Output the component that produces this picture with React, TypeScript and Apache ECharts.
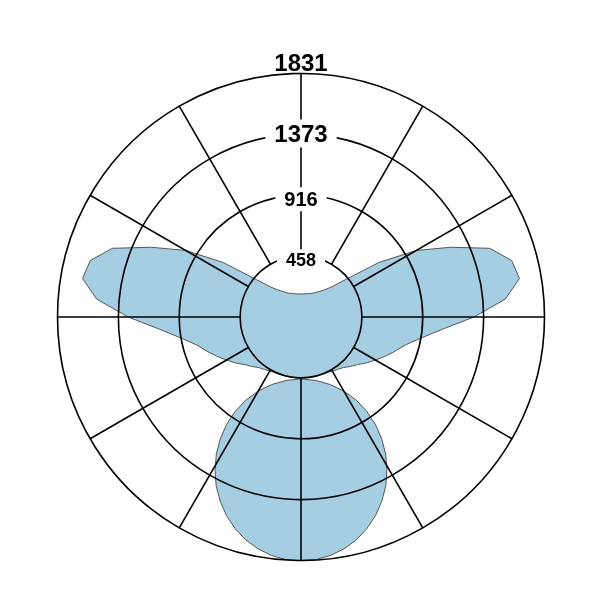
import { useEffect, useRef } from "react";
import * as echarts from "echarts";

// radius rings (cd) and their labels
const ringValues = [457.75, 915.5, 1373.25, 1831];
const ringLabels = ["458", "916", "1373", "1831"];
const spokeAngles = [0, 30, 60, 90, 120, 150, 180, 210, 240, 270, 300, 330];

// main curve, one half: angle from nadir (deg) -> intensity
const curveAngles = [
  0, 5, 10, 15, 20, 25, 30, 35, 40, 45, 50, 55, 60, 65, 70, 75, 80, 85, 90,
  95, 100, 105, 110, 115, 120, 125, 130, 135, 140, 145, 150, 155, 160, 165,
  170, 175, 180,
];
const curveValues = [
  458, 458, 458, 458, 459, 462, 470, 481, 496, 526, 556, 602, 647, 699, 752,
  812, 915, 1065, 1300, 1542, 1668, 1640, 1510, 1241, 1000, 715, 436, 316,
  263, 233, 211, 196, 188, 181, 177, 174, 173,
];

// lower lobe, one half: from the nadir tip round to its inner point
const lobeAngles = [
  0, 3.5, 7.0, 10.5, 14.0, 17.3, 20.6, 23.7, 26.7, 29.3, 31.7, 33.5, 34.7,
  34.9, 33.6, 30.1, 23.5, 13.2, 0,
];
const lobeValues = [
  1831, 1828, 1807, 1773, 1726, 1666, 1594, 1512, 1420, 1320, 1212, 1100, 984,
  866, 752, 645, 554, 490, 466,
];

const labelSizes = [18, 20, 24, 24];
const labelShift = [4, 4, -1, -11];

// both halves are symmetric about the nadir
function mirrored(angles: number[], values: number[]) {
  const pts = angles.map((a, i) => [values[i], a]);
  for (let i = angles.length - 2; i >= 1; i--) {
    pts.push([values[i], 360 - angles[i]]);
  }
  return pts;
}

const fillStyle = { fill: "#a6cee3", stroke: "#555", lineWidth: 1 };

export default function App() {
  const chartRef = useRef<HTMLDivElement>(null);

  useEffect(() => {
    if (!chartRef.current) return;
    const chart = echarts.init(chartRef.current, null, { renderer: "svg" });

    const curvePts = mirrored(curveAngles, curveValues);
    const lobePts = mirrored(lobeAngles, lobeValues);
    const outer = ringValues[ringValues.length - 1];

    chart.setOption({
      animation: false,
      polar: { center: [301, 317], radius: 243.5 },
      angleAxis: {
        type: "value",
        min: 0,
        max: 360,
        startAngle: 270,
        axisLine: { show: false },
        axisTick: { show: false },
        axisLabel: { show: false },
        splitLine: { show: false },
      },
      radiusAxis: {
        type: "value",
        min: 0,
        max: outer,
        interval: ringValues[0],
        z: 5,
        axisLine: { show: false },
        axisTick: { show: false },
        axisLabel: { show: false },
        splitLine: { show: true, lineStyle: { color: "#000", width: 1.6 } },
      },
      series: [
        {
          type: "custom",
          coordinateSystem: "polar",
          z: 2,
          data: [[0, 0]],
          renderItem: (_p: any, api: any) => ({
            type: "polygon",
            shape: { points: curvePts.map((p) => api.coord(p)) },
            style: fillStyle,
          }),
        },
        {
          type: "custom",
          coordinateSystem: "polar",
          z: 2,
          data: [[0, 0]],
          renderItem: (_p: any, api: any) => ({
            type: "polygon",
            shape: { points: lobePts.map((p) => api.coord(p)) },
            style: fillStyle,
          }),
        },
        {
          type: "custom",
          coordinateSystem: "polar",
          z: 6,
          data: spokeAngles.map((a) => [outer, a]),
          renderItem: (_p: any, api: any) => {
            const a = api.value(1);
            const s = api.coord([ringValues[0], a]);
            const e = api.coord([api.value(0), a]);
            return {
              type: "line",
              shape: { x1: s[0], y1: s[1], x2: e[0], y2: e[1] },
              style: { stroke: "#000", lineWidth: 1.6 },
            };
          },
        },
        {
          type: "custom",
          coordinateSystem: "polar",
          z: 8,
          data: ringValues.map((v) => [v, 180]),
          renderItem: (p: any, api: any) => {
            const i = p.dataIndex;
            const last = i === ringValues.length - 1;
            const pt = api.coord([api.value(0), api.value(1)]);
            return {
              type: "text",
              x: pt[0],
              y: pt[1] + labelShift[i],
              style: {
                text: ringLabels[i],
                fontSize: labelSizes[i],
                fontWeight: "bold",
                fontFamily: "Liberation Sans, Arial, sans-serif",
                fill: "#000",
                align: "center",
                verticalAlign: "middle",
                backgroundColor: last ? "transparent" : "#fff",
                padding: [2, 9],
              },
            };
          },
        },
      ],
    });

    return () => chart.dispose();
  }, []);

  return (
    <div
      ref={chartRef}
      style={{ position: "fixed", left: 0, top: 0, width: 601, height: 601 }}
    />
  );
}
